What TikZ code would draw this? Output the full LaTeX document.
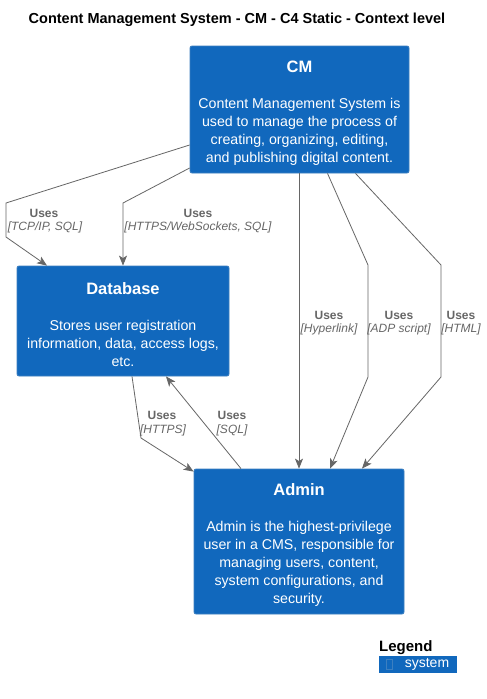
\documentclass[tikz,border=0pt]{standalone}
\usepackage{fontspec}
\setmainfont{Liberation Sans}
\usetikzlibrary{arrows.meta,calc}
\definecolor{sysblue}{HTML}{1168BD}
\definecolor{sysborder}{HTML}{3C7FC0}
\definecolor{linegray}{HTML}{666666}
\newcommand{\boxtitle}[1]{{\bfseries\fontsize{16.5}{18}\selectfont\rule{0pt}{19pt}#1}\\[18pt]}
\begin{document}
\begin{tikzpicture}[x=1pt,y=-1pt,
  sysbox/.style={draw=sysborder,fill=sysblue,rounded corners=2pt,line width=0.8pt,
    text=white,align=center,inner sep=0pt,
    font=\fontsize{14.2}{18}\selectfont},
  rel/.style={draw=linegray,line width=0.8pt,-{Stealth[length=10pt,width=8pt,inset=2.5pt]}},
  uses/.style={text=linegray,font=\bfseries\fontsize{12}{14}\selectfont,inner sep=0pt},
  tech/.style={text=linegray,font=\itshape\fontsize{12}{14}\selectfont,inner sep=0pt}]
\useasboundingbox[fill=white] (0,0) rectangle (487,699);

\node[font=\bfseries\fontsize{14.5}{16}\selectfont,inner sep=0pt] (title) at (237,19.5)
  {Content Management System - CM - C4 Static - Context level};

\node[sysbox,minimum width=219pt,minimum height=127pt] (cm) at (299.5,109.5)
  {\boxtitle{CM}
   Content Management System is\\used to manage the process of\\creating, organizing, editing,\\and publishing digital content.};

\node[sysbox,minimum width=212pt,minimum height=110pt] (db) at (123,321)
  {\boxtitle{Database}
   Stores user registration\\information, data, access logs,\\etc.};

\node[sysbox,minimum width=210pt,minimum height=145pt] (admin) at (299,541.5)
  {\boxtitle{Admin}
   Admin is the highest-privilege\\user in a CMS, responsible for\\managing users, content,\\system configurations, and\\security.};

% connectors
\coordinate (b1a) at (6,203);
\coordinate (b1b) at (6,237);
\draw[rel] ([yshift=-35.5pt]cm.west) -- (b1a) -- (b1b) -- ([xshift=-76pt]db.north);
\coordinate (b2) at (123,203);
\draw[rel] ([yshift=-58.5pt]cm.west) -- (b2) -- (db.north);
\draw[rel] (cm.south -| admin.north) -- (admin.north);
\coordinate (b4a) at (368,265);
\coordinate (b4b) at (368,377);
\draw[rel] ([xshift=28pt]cm.south) -- (b4a) -- (b4b) -- ([xshift=31pt]admin.north);
\coordinate (b5a) at (441,265);
\coordinate (b5b) at (441,377);
\draw[rel] ([xshift=56pt]cm.south) -- (b5a) -- (b5b) -- ([xshift=63pt]admin.north);
\coordinate (b6) at (141,438);
\draw[rel] ([xshift=9pt]db.south) -- (b6) -- ([yshift=-3pt]admin.north west);
\draw[rel] ([xshift=-58pt]admin.north) -- ([xshift=43pt]db.south);

% labels
\node[uses] (u1) at (44,213) {Uses};
\node[tech] (t1) at (45,227) {[TCP/IP, SQL]};
\node[uses] (u2) at (198,213) {Uses};
\node[tech] (t2) at (198,227) {[HTTPS/WebSockets, SQL]};
\node[uses] (u3) at (329,315) {Uses};
\node[tech] (t3) at (329,329) {[Hyperlink]};
\node[uses] (u4) at (399,315) {Uses};
\node[tech] (t4) at (399,329) {[ADP script]};
\node[uses] (u5) at (461,315) {Uses};
\node[tech] (t5) at (461,329) {[HTML]};
\node[uses] (u6) at (162,415) {Uses};
\node[tech] (t6) at (163,430) {[HTTPS]};
\node[uses] (u7) at (232,415) {Uses};
\node[tech] (t7) at (232,430) {[SQL]};

% legend
\node[font=\bfseries\fontsize{15}{17}\selectfont,inner sep=0pt,anchor=west] (legend) at (379,648) {Legend};
\node[fill=sysblue,minimum width=78pt,minimum height=17pt,inner sep=0pt,anchor=north west] (leg) at (379,656) {};
\node[draw=sysborder,line width=0.5pt,minimum width=6pt,minimum height=10pt,inner sep=0pt] (legicon) at (389,664.5) {};
\node[text=white,font=\fontsize{14}{16}\selectfont,inner sep=0pt] (legtext) at (427,664.5) {system};
\end{tikzpicture}
\end{document}
